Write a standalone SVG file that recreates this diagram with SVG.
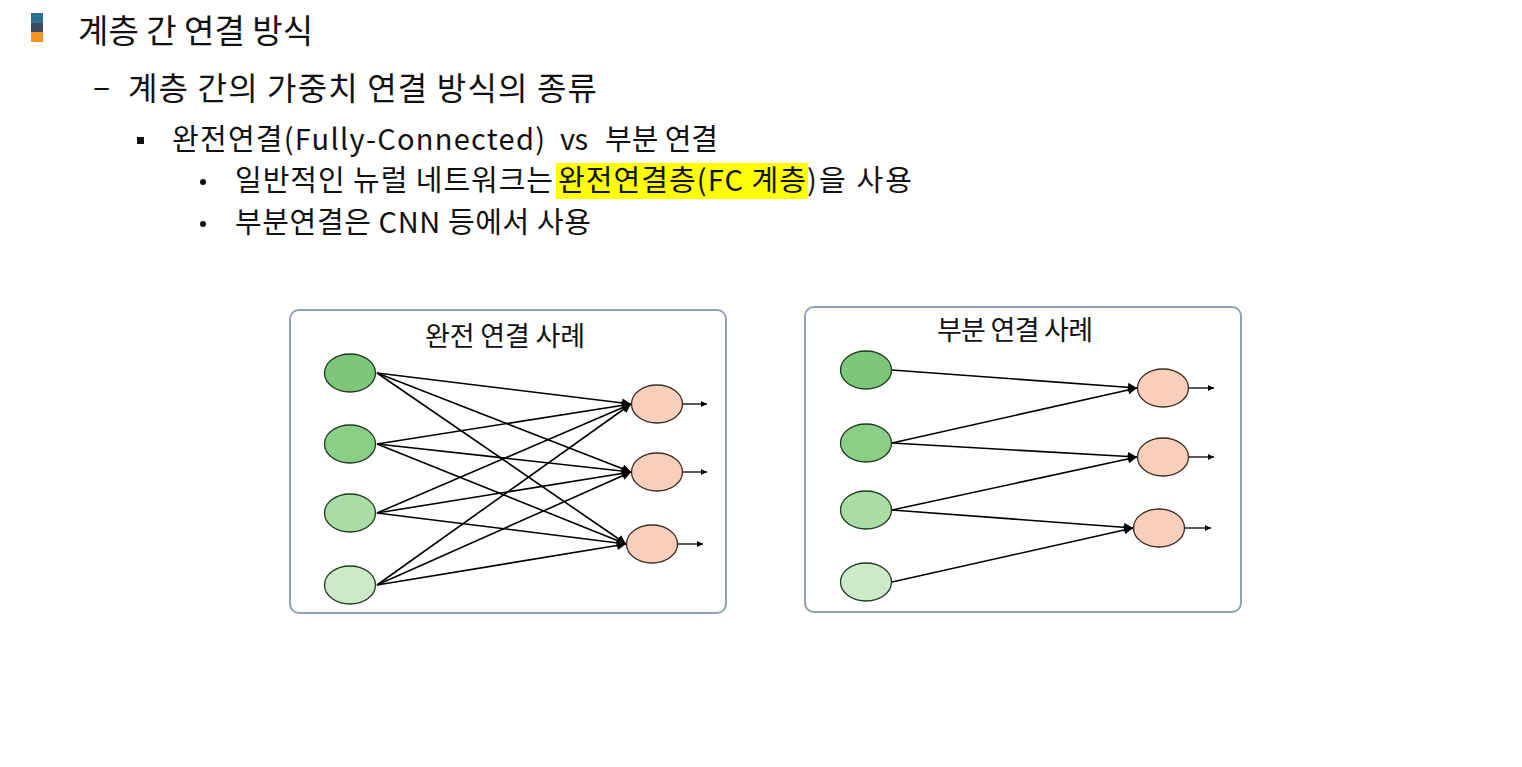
<svg xmlns="http://www.w3.org/2000/svg" width="1522" height="767" viewBox="0 0 1522 767">
<defs>
<marker id="ah" viewBox="0 0 10 10" refX="10" refY="5" markerWidth="10" markerHeight="9" markerUnits="userSpaceOnUse" orient="auto"><path d="M0,0 L10,5 L0,10 z" fill="#000"/></marker>
<marker id="as" viewBox="0 0 10 10" refX="10" refY="5" markerWidth="7" markerHeight="6" markerUnits="userSpaceOnUse" orient="auto"><path d="M0,0 L10,5 L0,10 z" fill="#000"/></marker>
<style>
text{font-family:"Noto Sans CJK KR","Noto Sans",sans-serif;fill:#111;}
.h1{font-size:33px;}
.h2{font-size:32px;}
.h3{font-size:29px;}
.t{font-size:27px;}
.box{fill:#fff;stroke:#8fa2b5;stroke-width:2;}
.ln{stroke:#000;stroke-width:1.6;fill:none;marker-end:url(#ah);}
.out{stroke:#000;stroke-width:1.3;fill:none;marker-end:url(#as);}
.g1{fill:#7dc67a;stroke:#1e3a1e;stroke-width:1.3;}
.g2{fill:#8bce87;stroke:#1e3a1e;stroke-width:1.3;}
.g3{fill:#aadca6;stroke:#1e3a1e;stroke-width:1.3;}
.g4{fill:#cceac8;stroke:#1e3a1e;stroke-width:1.3;}
.p{fill:#f8cfbb;stroke:#3a2a22;stroke-width:1.3;}
</style>
</defs>
<rect width="1522" height="767" fill="#fff"/>
<g id="heading">
<rect x="31" y="13" width="12" height="10" fill="#2f6f8f"/>
<rect x="31" y="23" width="12" height="9" fill="#3b4a5e"/>
<rect x="31" y="32" width="12" height="10" fill="#f7941d"/>
<text class="h1" x="78" y="43" textLength="235">계층 간 연결 방식</text>
</g>
<g id="sub1">
<text class="h2" x="93" y="98">–</text>
<text class="h2" x="128" y="100" textLength="469">계층 간의 가중치 연결 방식의 종류</text>
</g>
<g id="sub2">
<rect x="137" y="137" width="7" height="7" fill="#111"/>
<text class="h3" x="172" y="150" textLength="373">완전연결(Fully-Connected)</text>
<text class="h3" x="560" y="150" textLength="28">vs</text>
<text class="h3" x="605" y="150" textLength="113">부분 연결</text>
</g>
<g id="sub3">
<rect x="556" y="163" width="252" height="36" fill="#ffff00"/>
<circle cx="203" cy="182" r="3" fill="#111"/>
<text class="h3" x="235" y="191" textLength="318">일반적인 뉴럴 네트워크는</text>
<text class="h3" x="558" y="191" textLength="248">완전연결층(FC 계층</text>
<text class="h3" x="807" y="191" textLength="105">)을 사용</text>
</g>
<g id="sub4">
<circle cx="203" cy="224" r="3" fill="#111"/>
<text class="h3" x="235" y="233" textLength="356">부분연결은 CNN 등에서 사용</text>
</g>
<g id="fc-box">
<rect class="box" x="290" y="310" width="436" height="303" rx="9"/>
<text class="t" x="425" y="346" textLength="160">완전 연결 사례</text>
</g>
<g id="pc-box">
<rect class="box" x="805" y="307" width="436" height="305" rx="9"/>
<text class="t" x="937" y="340" textLength="156">부분 연결 사례</text>
</g>
<g id="connectors">
<line class="ln" x1="377" y1="373" x2="631" y2="404"/>
<line class="ln" x1="377" y1="373" x2="631" y2="472"/>
<line class="ln" x1="377" y1="373" x2="626" y2="544"/>
<line class="ln" x1="377" y1="444" x2="631" y2="404"/>
<line class="ln" x1="377" y1="444" x2="631" y2="472"/>
<line class="ln" x1="377" y1="444" x2="626" y2="544"/>
<line class="ln" x1="377" y1="513" x2="631" y2="404"/>
<line class="ln" x1="377" y1="513" x2="631" y2="472"/>
<line class="ln" x1="377" y1="513" x2="626" y2="544"/>
<line class="ln" x1="377" y1="585" x2="631" y2="404"/>
<line class="ln" x1="377" y1="585" x2="631" y2="472"/>
<line class="ln" x1="377" y1="585" x2="626" y2="544"/>
<line class="out" x1="683" y1="404" x2="707" y2="404"/>
<line class="out" x1="683" y1="472" x2="707" y2="472"/>
<line class="out" x1="678" y1="544" x2="703" y2="544"/>
<line class="ln" x1="892" y1="370" x2="1137" y2="388"/>
<line class="ln" x1="892" y1="443" x2="1137" y2="388"/>
<line class="ln" x1="892" y1="443" x2="1137" y2="457"/>
<line class="ln" x1="892" y1="510" x2="1137" y2="457"/>
<line class="ln" x1="892" y1="510" x2="1133" y2="528"/>
<line class="ln" x1="892" y1="582" x2="1133" y2="528"/>
<line class="out" x1="1189" y1="388" x2="1214" y2="388"/>
<line class="out" x1="1189" y1="457" x2="1214" y2="457"/>
<line class="out" x1="1185" y1="528" x2="1211" y2="528"/>
</g>
<g id="fc-in1"><ellipse class="g1" cx="350" cy="373" rx="25.5" ry="19"/></g>
<g id="fc-in2"><ellipse class="g2" cx="350" cy="444" rx="25.5" ry="19"/></g>
<g id="fc-in3"><ellipse class="g3" cx="350" cy="513" rx="25.5" ry="19"/></g>
<g id="fc-in4"><ellipse class="g4" cx="350" cy="585" rx="25.5" ry="19"/></g>
<g id="fc-out1"><ellipse class="p" cx="657" cy="404" rx="25.5" ry="19"/></g>
<g id="fc-out2"><ellipse class="p" cx="657" cy="472" rx="25.5" ry="19"/></g>
<g id="fc-out3"><ellipse class="p" cx="652" cy="544" rx="25.5" ry="19"/></g>
<g id="pc-in1"><ellipse class="g1" cx="866" cy="370" rx="25.5" ry="19"/></g>
<g id="pc-in2"><ellipse class="g2" cx="866" cy="443" rx="25.5" ry="19"/></g>
<g id="pc-in3"><ellipse class="g3" cx="866" cy="510" rx="25.5" ry="19"/></g>
<g id="pc-in4"><ellipse class="g4" cx="866" cy="582" rx="25.5" ry="19"/></g>
<g id="pc-out1"><ellipse class="p" cx="1163" cy="388" rx="25.5" ry="19"/></g>
<g id="pc-out2"><ellipse class="p" cx="1163" cy="457" rx="25.5" ry="19"/></g>
<g id="pc-out3"><ellipse class="p" cx="1159" cy="528" rx="25.5" ry="19"/></g>
</svg>
